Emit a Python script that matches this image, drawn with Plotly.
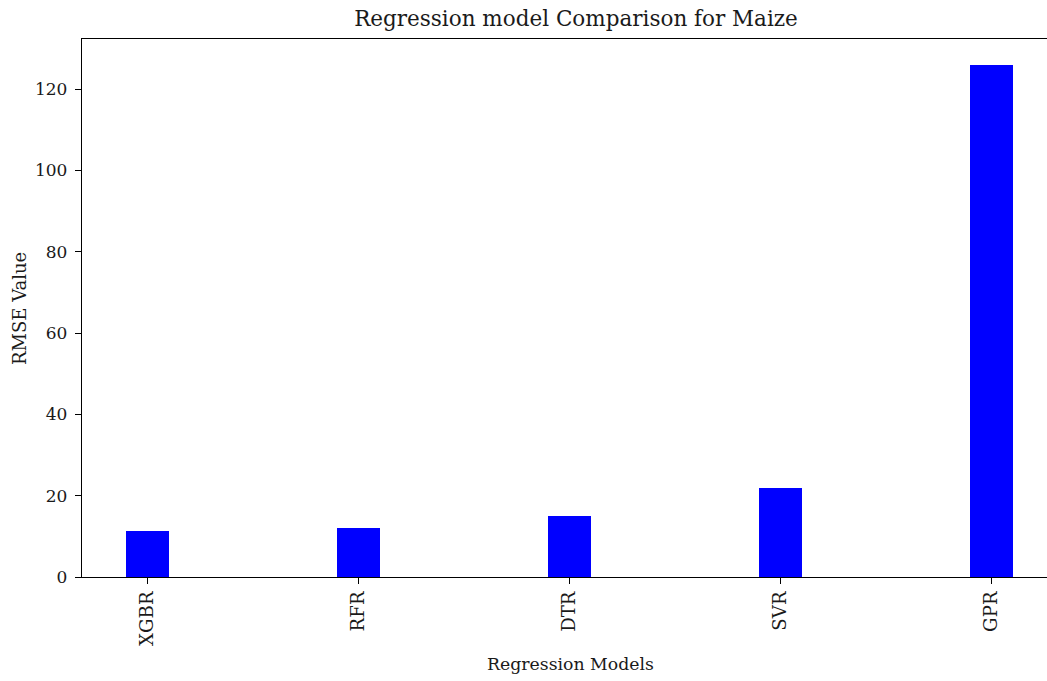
import plotly.graph_objects as go

# RMSE per regression model (maize)
models = ["XGBR", "RFR", "DTR", "SVR", "GPR"]
rmse = [11.4, 12.05, 14.93, 21.9, 126.05]
y_ticks = [0, 20, 40, 60, 80, 100, 120]

FONT = "DejaVu Serif"
INK = "#1a1a1a"
W, H = 1047, 681
L, R, T, B = 82, 0, 39, 104

fig = go.Figure(
    go.Bar(
        x=list(range(len(models))),
        y=rmse,
        width=0.2,
        marker=dict(color="#0000ff", line=dict(width=0)),
        hoverinfo="x+y",
    )
)

fig.update_layout(
    width=W,
    height=H,
    margin=dict(l=L, r=R, t=T, b=B, pad=0),
    plot_bgcolor="white",
    paper_bgcolor="white",
    font=dict(family=FONT, size=16.6, color=INK),
    showlegend=False,
    title=dict(
        text="Regression model Comparison for Maize",
        font=dict(family=FONT, size=21.5, color=INK),
        xref="container",
        yref="container",
        x=576 / W,
        y=1 - 18 / H,
        xanchor="center",
        yanchor="middle",
    ),
    bargap=0,
)

fig.update_xaxes(
    range=[-0.31, 4.263],
    tickmode="array",
    tickvals=list(range(len(models))),
    ticktext=models,
    tickangle=-90,
    tickfont=dict(family=FONT, size=18.2, color=INK),
    ticks="outside",
    ticklen=6,
    tickwidth=1.3,
    tickcolor="#000",
    showline=True,
    linecolor="#000",
    linewidth=1.3,
    mirror=True,
    showgrid=False,
    zeroline=False,
    fixedrange=True,
)

fig.update_yaxes(
    range=[0, 132.35],
    tickmode="array",
    tickvals=y_ticks,
    tickfont=dict(family=FONT, size=17, color=INK),
    ticklabelstandoff=4,
    ticks="outside",
    ticklen=6,
    tickwidth=1.3,
    tickcolor="#000",
    showline=True,
    linecolor="#000",
    linewidth=1.3,
    mirror=False,
    showgrid=False,
    zeroline=False,
    fixedrange=True,
)

plot_w = W - L - R
plot_h = H - T - B

fig.add_annotation(
    text="Regression Models",
    xref="paper",
    yref="paper",
    x=(570 - L) / plot_w,
    y=-(664 - (H - B)) / plot_h,
    xanchor="center",
    yanchor="middle",
    showarrow=False,
    font=dict(family=FONT, size=17.3, color=INK),
)

fig.add_annotation(
    text="RMSE Value",
    xref="paper",
    yref="paper",
    x=(19 - L) / plot_w,
    y=0.5,
    xanchor="center",
    yanchor="middle",
    textangle=-90,
    showarrow=False,
    font=dict(family=FONT, size=18, color=INK),
)

fig.write_html("out.html", config={"displayModeBar": False})
